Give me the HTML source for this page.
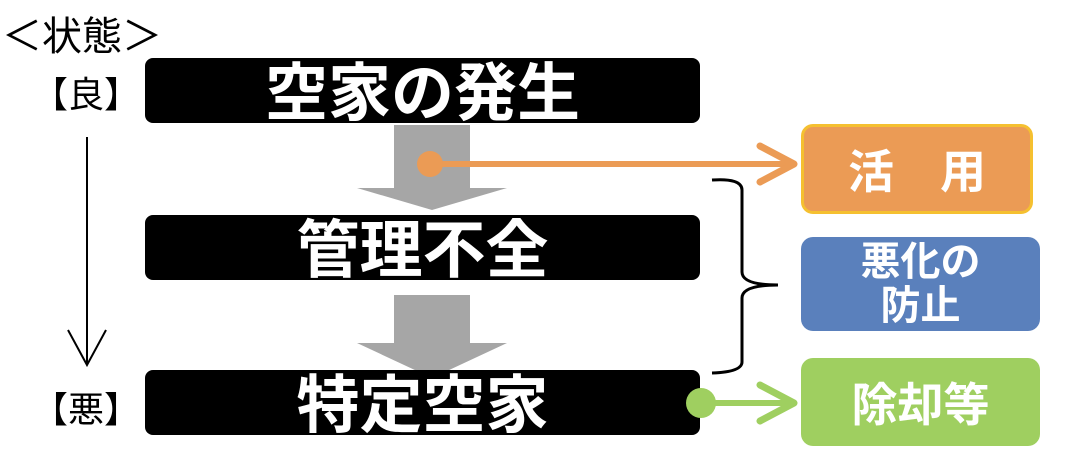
<!DOCTYPE html>
<html><head><meta charset="utf-8"><style>
body{margin:0;background:#fff;width:1076px;height:462px;overflow:hidden;position:relative;font-family:"Liberation Sans","Noto Sans CJK JP",sans-serif}
.t{position:absolute;white-space:nowrap}
.bx{position:absolute;left:145px;width:555px;height:65px;background:#000;border-radius:8px;color:#fff;font-size:63px;font-weight:bold;text-align:center;line-height:73px;overflow:visible}
.rb{position:absolute;border-radius:12px;color:#fff;font-weight:bold;text-align:center;display:flex;align-items:center;justify-content:center}
</style></head><body>
<svg width="1076" height="462" style="position:absolute;left:0;top:0">
<polygon points="394,125 470,125 470,188 507,188 432,210 357,188 394,188" fill="#a6a6a6"/>
<polygon points="394,295 470,295 470,343 507,343 432,378 357,343 394,343" fill="#a6a6a6"/>
<line x1="87" y1="137" x2="87" y2="365" stroke="#000" stroke-width="2"/>
<polyline points="68,330 87,365 106,330" fill="none" stroke="#000" stroke-width="2"/>
<line x1="430" y1="164" x2="794" y2="164" stroke="#eb9b55" stroke-width="6"/>
<polyline points="760,146 794,164 760,182" fill="none" stroke="#eb9b55" stroke-width="7" stroke-linecap="round" stroke-linejoin="round"/>
<path d="M712,180 Q742,178 742,190 L742,272 Q742,285 778,285 Q742,285 742,298 L742,362 Q742,372 712,373" fill="none" stroke="#000" stroke-width="3"/>
</svg>
<div class="bx" style="top:58px">空家の発生</div>
<div class="bx" style="top:215px">管理不全</div>
<div class="bx" style="top:370px">特定空家</div>
<svg width="1076" height="462" style="position:absolute;left:0;top:0">
<circle cx="430" cy="164" r="13" fill="#eb9b55"/>
<line x1="701" y1="403" x2="794" y2="403" stroke="#9fcf60" stroke-width="6"/>
<polyline points="760,385 794,403 760,421" fill="none" stroke="#9fcf60" stroke-width="7" stroke-linecap="round" stroke-linejoin="round"/>
<circle cx="701" cy="403" r="15" fill="#9fcf60"/>
</svg>
<div class="t" style="left:2px;top:4px;font-size:40px">＜状態＞</div>
<div class="t" style="left:32px;top:66px;font-size:36px">【良】</div>
<div class="t" style="left:32px;top:381px;font-size:36px">【悪】</div>
<div class="rb" style="left:801px;top:124px;width:226px;height:84px;background:#eb9b55;border:3px solid #f5c030;font-size:46px">活　用</div>
<div class="rb" style="left:801px;top:237px;width:239px;height:94px;background:#5a80bc;font-size:40px;line-height:44px">悪化の<br>防止</div>
<div class="rb" style="left:801px;top:358px;width:239px;height:88px;background:#9fcf60;font-size:46px">除却等</div>
</body></html>
